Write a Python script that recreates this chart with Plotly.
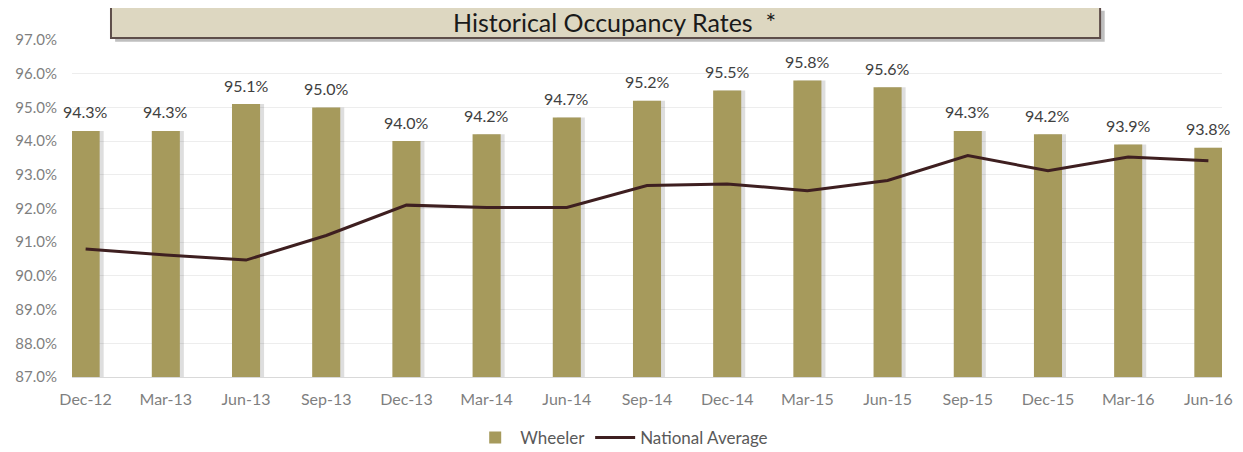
import plotly.graph_objects as go

# data
periods = ['Dec-12', 'Mar-13', 'Jun-13', 'Sep-13', 'Dec-13', 'Mar-14', 'Jun-14', 'Sep-14',
           'Dec-14', 'Mar-15', 'Jun-15', 'Sep-15', 'Dec-15', 'Mar-16', 'Jun-16']
wheeler = [94.3, 94.3, 95.1, 95.0, 94.0, 94.2, 94.7, 95.2, 95.5, 95.8, 95.6, 94.3, 94.2, 93.9, 93.8]
national_avg = [90.8, 90.62, 90.47, 91.2, 92.1, 92.03, 92.03, 92.68, 92.73, 92.53, 92.83,
                93.57, 93.12, 93.53, 93.42]
y_ticks = [87, 88, 89, 90, 91, 92, 93, 94, 95, 96, 97]

bar_colour = '#A69A5C'
line_colour = '#3E1F20'
font_name = 'Lato'

fig = go.Figure()

# soft shadow behind the bars
fig.add_bar(
    x=list(range(len(periods))),
    y=[v - 87 for v in wheeler],
    base=87,
    width=0.35,
    offset=-0.175 + 0.05,
    marker_color='rgba(0,0,0,0.13)',
    marker_line_width=0,
    showlegend=False,
    hoverinfo='skip',
)

fig.add_bar(
    x=list(range(len(periods))),
    y=[v - 87 for v in wheeler],
    base=87,
    width=0.35,
    offset=-0.175,
    marker_color=bar_colour,
    marker_line_width=0,
    name='Wheeler',
)

fig.add_scatter(
    x=list(range(len(periods))),
    y=national_avg,
    mode='lines',
    line=dict(color=line_colour, width=3),
    name='National Average',
)

# data labels above the bars
for i, v in enumerate(wheeler):
    fig.add_annotation(x=i, y=v, text=f'{v:.1f}%', showarrow=False,
                       yanchor='middle', yshift=19,
                       font=dict(size=16, color='#404040', family=font_name))

# the page body adds an 8px offset, so the figure is 8px smaller than the window
fig.update_layout(
    barmode='overlay',
    width=1235,
    height=444,
    margin=dict(l=64, r=21, t=32, b=75, autoexpand=False),
    paper_bgcolor='white',
    plot_bgcolor='white',
    font=dict(family=font_name, color='#7F7F7F', size=15),
    showlegend=True,
    legend=dict(
        orientation='h',
        x=0.478,
        xanchor='center',
        y=-0.181,
        yanchor='middle',
        font=dict(size=17, color='#595959'),
        traceorder='normal',
        itemwidth=40,
        tracegroupgap=20,
    ),
)

fig.update_xaxes(
    range=[-0.17, 14.17],
    tickvals=list(range(len(periods))),
    ticktext=periods,
    showgrid=False,
    zeroline=False,
    showline=True,
    linecolor='#D9D9D9',
    linewidth=1,
    ticks='',
    ticklabelstandoff=8,
    automargin=False,
    tickfont=dict(size=16, color='#7F7F7F'),
)

fig.update_yaxes(
    range=[87, 97],
    tickvals=y_ticks,
    ticktext=[f'{v:.1f}%' for v in y_ticks],
    showgrid=True,
    gridcolor='#EDEDED',
    gridwidth=1,
    zeroline=False,
    showline=False,
    ticks='',
    ticklabelstandoff=14,
    automargin=False,
    tickfont=dict(size=15, color='#7F7F7F'),
)

# title box with shadow
fig.add_shape(type='rect', xref='paper', yref='paper',
              x0=0.0375, x1=0.898, y0=0.995, y1=1.087,
              fillcolor='rgba(0,0,0,0.25)', line_width=0, layer='above')
fig.add_shape(type='rect', xref='paper', yref='paper',
              x0=0.0339, x1=0.894, y0=1.006, y1=1.098,
              fillcolor='#DDD7C1', line=dict(color='#5E4E4A', width=2), layer='above')
fig.add_annotation(text='Historical Occupancy Rates  *', xref='paper', yref='paper',
                   x=0.472, y=1.052, yanchor='middle', showarrow=False,
                   font=dict(family=font_name, size=25, color='#1A1A1A'))

fig.write_html('out.html')
